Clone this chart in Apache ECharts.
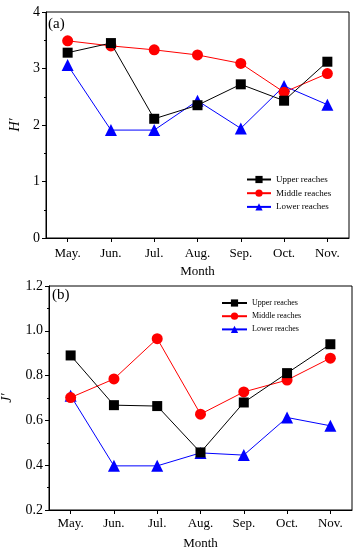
<!DOCTYPE html>
<html>
<head>
<meta charset="utf-8">
<script src="https://cdn.jsdelivr.net/npm/echarts@6/dist/echarts.min.js"></script>
<style>html,body{margin:0;padding:0;background:#fff;}#c{width:361px;height:550px;}</style>
</head>
<body>
<div id="c"></div>
<script>
const months = ['May.', 'Jun.', 'Jul.', 'Aug.', 'Sep.', 'Oct.', 'Nov.'];
const seriesNames = ['Upper reaches', 'Middle reaches', 'Lower reaches'];
// Panel (a) H'
const hUpper = [3.28, 3.45, 2.11, 2.35, 2.72, 2.43, 3.12];
const hMiddle = [3.49, 3.40, 3.33, 3.24, 3.09, 2.58, 2.91];
const hLower = [3.06, 1.91, 1.91, 2.43, 1.94, 2.69, 2.36];
// Panel (b) J'
const jUpper = [0.89, 0.668, 0.664, 0.457, 0.68, 0.811, 0.94];
const jMiddle = [0.702, 0.785, 0.965, 0.628, 0.727, 0.78, 0.878];
const jLower = [0.71, 0.397, 0.397, 0.455, 0.445, 0.613, 0.576];

const FONT = 'Liberation Serif';
const colors = ['#000000', '#ff0000', '#0000ff'];
const symbols = ['rect', 'circle', 'triangle'];
const sizes = [10, 11, 12];

function mkSeries(data, idx, gi) {
  return {
    type: 'line', name: seriesNames[idx], xAxisIndex: gi, yAxisIndex: gi,
    data: data, symbol: symbols[idx], symbolSize: sizes[idx],
    lineStyle: { color: colors[idx], width: 1 },
    itemStyle: { color: colors[idx] },
    emphasis: { disabled: true }, animation: false, z: 3 - idx + 2
  };
}

function xAx(gi, gap, margin) {
  return {
    type: 'category', gridIndex: gi, data: months, boundaryGap: true,
    axisLine: { lineStyle: { color: '#000', width: 1 } },
    axisTick: { show: true, alignWithLabel: true, inside: false, length: 4, lineStyle: { color: '#000' } },
    axisLabel: { color: '#000', fontFamily: FONT, fontSize: 13, margin: margin },
    name: 'Month', nameLocation: 'middle', nameGap: gap,
    nameTextStyle: { color: '#000', fontFamily: FONT, fontSize: 13 }
  };
}
function yAx(gi, min, max, interval, name, gap, dec) {
  return {
    type: 'value', gridIndex: gi, min: min, max: max, interval: interval,
    splitLine: { show: false },
    axisLine: { show: true, lineStyle: { color: '#000', width: 1 } },
    axisTick: { show: true, inside: false, length: 4, lineStyle: { color: '#000' } },
    minorTick: { show: true, splitNumber: 2, length: 2, lineStyle: { color: '#000' } },
    axisLabel: { color: '#000', fontFamily: FONT, fontSize: 14, margin: 6,
      formatter: v => dec ? v.toFixed(1) : String(Math.round(v)) },
    name: name, nameLocation: 'middle', nameGap: gap, nameRotate: 90,
    nameTextStyle: { color: '#000', fontFamily: FONT, fontSize: 14, fontStyle: 'italic' }
  };
}

const chart = echarts.init(document.getElementById('c'), null, { renderer: 'canvas' });
chart.setOption({
  animation: false,
  backgroundColor: '#fff',
  grid: [
    { left: 46, top: 12, right: 12, height: 226, show: true, borderColor: '#000', borderWidth: 1,
      containLabel: false, outerBoundsMode: 'none' },
    { left: 49, top: 286, right: 9, height: 224, show: true, borderColor: '#000', borderWidth: 1,
      containLabel: false, outerBoundsMode: 'none' }
  ],
  xAxis: [xAx(0, 27, 9), xAx(1, 27, 7)],
  yAxis: [yAx(0, 0, 4, 1, 'H\u2032', 24, false), yAx(1, 0.2, 1.2, 0.2, 'J\u2032', 30, true)],
  legend: [
    { left: 246, top: 175, padding: 0, orient: 'vertical', itemWidth: 24, itemHeight: 9, itemGap: 4.7,
      data: seriesNames, selectedMode: false,
      textStyle: { fontFamily: FONT, fontSize: 9, color: '#000' } },
    { left: 221, top: 299, padding: 0, orient: 'vertical', itemWidth: 25, itemHeight: 9, itemGap: 5.2,
      data: seriesNames, selectedMode: false,
      textStyle: { fontFamily: FONT, fontSize: 8, color: '#000' } }
  ],
  graphic: [
    { type: 'text', left: 48, top: 17, style: { text: '(a)', font: '15px "Liberation Serif"', fill: '#000' } },
    { type: 'text', left: 52, top: 288, style: { text: '(b)', font: '15px "Liberation Serif"', fill: '#000' } }
  ],
  series: [
    mkSeries(hUpper, 0, 0), mkSeries(hMiddle, 1, 0), mkSeries(hLower, 2, 0),
    mkSeries(jUpper, 0, 1), mkSeries(jMiddle, 1, 1), mkSeries(jLower, 2, 1)
  ]
});
</script>
</body>
</html>
